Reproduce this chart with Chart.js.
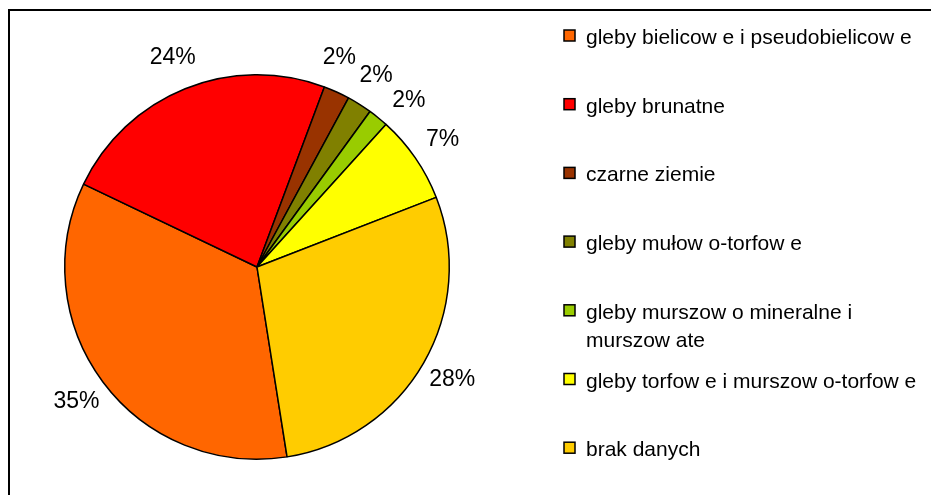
<!DOCTYPE html>
<html>
<head>
<meta charset="utf-8">
<script src="https://cdn.jsdelivr.net/npm/chart.js@4.4.0/dist/chart.umd.min.js"></script>
<style>
  html, body { margin: 0; padding: 0; background: #fff; overflow: hidden; }
  #wrap { position: relative; width: 931px; height: 495px; }
  #frame {
    position: absolute; left: 8px; top: 9px; width: 1000px; height: 600px;
    border-top: 2.5px solid #000; border-left: 2.5px solid #000;
  }
  canvas { position: absolute; left: 0; top: 0; }
</style>
</head>
<body>
<div id="wrap">
  <div id="frame"></div>
  <canvas id="pie" width="931" height="495"></canvas>
</div>
<script>
// soil types (legend order = slice order)
const soilLabels = [
  "gleby bielicow e i pseudobielicow e",
  "gleby brunatne",
  "czarne ziemie",
  "gleby mułow o-torfow e",
  ["gleby murszow o mineralne i", "murszow ate"],
  "gleby torfow e i murszow o-torfow e",
  "brak danych"
];
const soilShares = [34.6, 23.6, 2.2, 2.1, 1.7, 7.4, 28.4];
const soilColors = ["#FF6600", "#FF0000", "#993300", "#808000", "#99CC00", "#FFFF00", "#FFCC00"];

const FONT = "Liberation Sans, Arial, sans-serif";

// percent labels outside each slice, small neighbours spread apart a bit
const outsideLabels = {
  id: "outsideLabels",
  afterDatasetsDraw(chart) {
    const ctx = chart.ctx;
    const meta = chart.getDatasetMeta(0);
    const total = soilShares.reduce((a, b) => a + b, 0);
    const arcs = meta.data.map(arc => arc.getProps(["x", "y", "startAngle", "endAngle", "outerRadius"], true));
    const ang = arcs.map(p => (p.startAngle + p.endAngle) / 2);
    const minSep = 10.5 * Math.PI / 180;
    for (let it = 0; it < 60; it++) {
      for (let i = 1; i < ang.length; i++) {
        const gap = ang[i] - ang[i - 1];
        if (gap < minSep) {
          const push = (minSep - gap) / 2;
          ang[i - 1] -= push;
          ang[i] += push;
        }
      }
    }
    ctx.save();
    ctx.font = "23px " + FONT;
    ctx.fillStyle = "#000";
    ctx.textAlign = "center";
    ctx.textBaseline = "middle";
    arcs.forEach((p, i) => {
      const d = p.outerRadius + 33;
      const txt = Math.round(soilShares[i] / total * 100) + "%";
      ctx.fillText(txt, p.x + Math.cos(ang[i]) * d, p.y + Math.sin(ang[i]) * d);
    });
    ctx.restore();
  }
};

// legend on the right, drawn from the chart's own labels/colours
const sideLegend = {
  id: "sideLegend",
  afterDraw(chart) {
    const ctx = chart.ctx;
    const labels = chart.data.labels;
    const colors = chart.data.datasets[0].backgroundColor;
    const x0 = 564, firstBase = 44, pitch = 68.7, lineH = 28;
    ctx.save();
    ctx.font = "21px " + FONT;
    ctx.textBaseline = "alphabetic";
    ctx.textAlign = "left";
    labels.forEach((lab, i) => {
      const base = firstBase + i * pitch;
      ctx.fillStyle = colors[i];
      ctx.fillRect(x0, base - 14, 11, 11);
      ctx.lineWidth = 1.5;
      ctx.strokeStyle = "#000";
      ctx.strokeRect(x0, base - 14, 11, 11);
      ctx.fillStyle = "#000";
      const lines = Array.isArray(lab) ? lab : [lab];
      lines.forEach((ln, k) => ctx.fillText(ln, x0 + 22, base + k * lineH));
    });
    ctx.restore();
  }
};

new Chart(document.getElementById("pie"), {
  type: "pie",
  data: {
    labels: soilLabels,
    datasets: [{
      data: soilShares,
      backgroundColor: soilColors,
      borderColor: "#000",
      borderWidth: 1.5
    }]
  },
  options: {
    responsive: false,
    animation: false,
    devicePixelRatio: 1,
    rotation: 171,
    layout: { padding: { left: 64, right: 481, top: 74, bottom: 35 } },
    plugins: {
      legend: { display: false },
      tooltip: { enabled: false }
    }
  },
  plugins: [outsideLabels, sideLegend]
});
</script>
</body>
</html>
